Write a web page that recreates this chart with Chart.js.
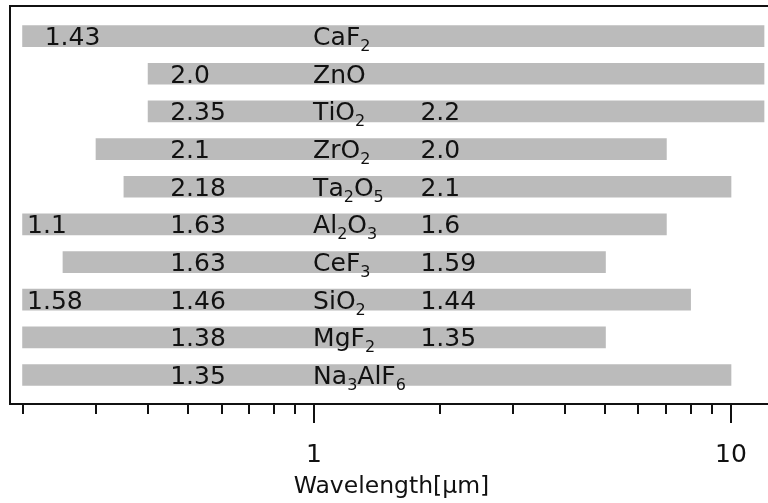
<!DOCTYPE html>
<html>
<head>
<meta charset="utf-8">
<script src="https://cdn.jsdelivr.net/npm/chart.js@4.4.1/dist/chart.umd.min.js"></script>
<style>
  html, body { margin: 0; padding: 0; background: #fff; overflow: hidden; }
  #wrap { width: 780px; height: 503px; }
</style>
</head>
<body>
<div id="wrap"><canvas id="coatingChart" width="780" height="503"></canvas></div>
<script>
// transparent range of common coating materials, with refractive indices
const materials = ['CaF2', 'ZnO', 'TiO2', 'ZrO2', 'Ta2O5', 'Al2O3', 'CeF3', 'SiO2', 'MgF2', 'Na3AlF6'];
const rangeFrom = [0.2, 0.4, 0.4, 0.3, 0.35, 0.2, 0.25, 0.2, 0.2, 0.2];
const rangeTo = [12, 12, 12, 7, 10, 7, 5, 8, 5, 10];
const indexUV = ['1.43', '', '', '', '', '1.1', '', '1.58', '', ''];
const indexVis = ['', '2.0', '2.35', '2.1', '2.18', '1.63', '1.63', '1.46', '1.38', '1.35'];
const indexIR = ['', '', '2.2', '2.0', '2.1', '1.6', '1.59', '1.44', '1.35', ''];
const tickValues = [0.2, 0.3, 0.4, 0.5, 0.6, 0.7, 0.8, 0.9, 1, 2, 3, 4, 5, 6, 7, 8, 9, 10];
const majorTicks = [1, 10];

const FONT = '"DejaVu Sans", sans-serif';
const INK = '#111';

function drawPlain(ctx, text, px, base) {
    if (!text) return;
    ctx.font = `25px ${FONT}`;
    ctx.fillText(text, px, base);
}

// formula: every digit goes down as a subscript
function drawFormula(ctx, text, px, base) {
    let cx = px;
    for (const ch of text) {
        const sub = /[0-9]/.test(ch);
        ctx.font = sub ? `16px ${FONT}` : `25px ${FONT}`;
        ctx.fillText(ch, cx, sub ? base + 6 : base);
        cx += ctx.measureText(ch).width;
    }
}

const bandLabels = {
    id: 'bandLabels',
    afterDatasetsDraw(chart) {
        const { ctx, scales: { x, y } } = chart;
        ctx.save();
        ctx.fillStyle = INK;
        ctx.textAlign = 'left';
        ctx.textBaseline = 'alphabetic';
        materials.forEach((name, i) => {
            const base = y.getPixelForValue(i) + 9;
            // the CaF2 value sits a bit further in than the others
            const uvAt = i === 0 ? 0.226 : 0.205;
            drawPlain(ctx, indexUV[i], x.getPixelForValue(uvAt), base);
            drawPlain(ctx, indexVis[i], x.getPixelForValue(0.452), base);
            drawFormula(ctx, name, x.getPixelForValue(0.995), base);
            drawPlain(ctx, indexIR[i], x.getPixelForValue(1.8), base);
        });
        ctx.restore();
    }
};

const frameAndTicks = {
    id: 'frameAndTicks',
    afterDraw(chart) {
        const { ctx, chartArea: { left, top, right, bottom }, scales: { x } } = chart;
        ctx.save();
        ctx.strokeStyle = INK;
        ctx.lineWidth = 2;
        ctx.beginPath();
        ctx.moveTo(right + 20, top);
        ctx.lineTo(left, top);
        ctx.lineTo(left, bottom);
        ctx.lineTo(right + 20, bottom);
        ctx.stroke();
        ctx.beginPath();
        x.ticks.forEach(t => {
            const px = Math.round(x.getPixelForValue(t.value));
            const len = majorTicks.includes(t.value) ? 19 : 10;
            ctx.moveTo(px, bottom);
            ctx.lineTo(px, bottom + len);
        });
        ctx.stroke();
        ctx.restore();
    }
};

new Chart(document.getElementById('coatingChart'), {
    type: 'bar',
    data: {
        datasets: [{
            data: materials.map((m, i) => ({ y: i, x: [rangeFrom[i], rangeTo[i]] })),
            backgroundColor: '#bbbbbb',
            borderWidth: 0,
            barThickness: 21
        }]
    },
    options: {
        indexAxis: 'y',
        responsive: false,
        animation: false,
        layout: { padding: { left: 10, top: 6, right: 7, bottom: 0 } },
        plugins: { legend: { display: false }, tooltip: { enabled: false } },
        scales: {
            x: {
                type: 'logarithmic',
                min: 0.1866,
                max: 12.61,
                grid: { display: false },
                border: { display: false },
                afterBuildTicks: s => {
                    s.ticks = tickValues.map(v => ({ value: v }));
                },
                afterFit: s => {
                    s.height = 99;
                    s.paddingLeft = 0;
                    s.paddingRight = 0;
                },
                ticks: {
                    autoSkip: false,
                    maxRotation: 0,
                    padding: 28,
                    color: INK,
                    font: { family: FONT, size: 25 },
                    callback: v => majorTicks.includes(v) ? String(v) : ''
                },
                title: {
                    display: true,
                    text: 'Wavelength[μm]',
                    color: INK,
                    font: { family: FONT, size: 23.5 },
                    padding: { top: 2, bottom: 2 }
                }
            },
            y: { type: 'linear', reverse: true, offset: false, min: -0.8, max: 9.77, display: false }
        }
    },
    plugins: [bandLabels, frameAndTicks]
});
</script>
</body>
</html>
